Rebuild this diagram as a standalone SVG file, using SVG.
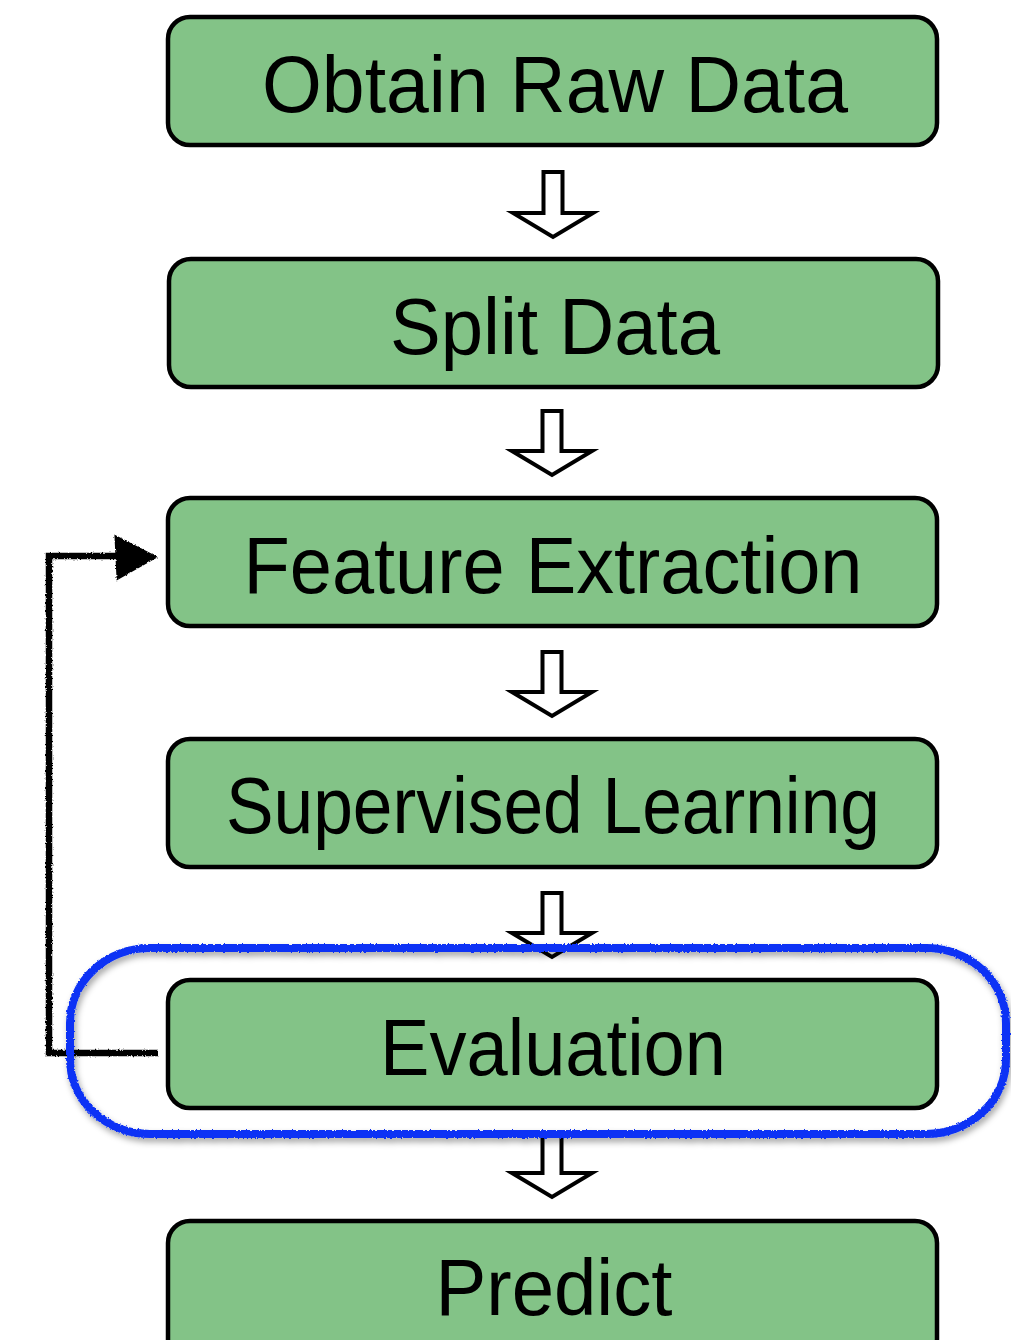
<svg xmlns="http://www.w3.org/2000/svg" width="1011" height="1340" viewBox="0 0 1011 1340">
<style>
.box{fill:#83c387;stroke:#000;stroke-width:4.5}
.lbl{font-family:"Liberation Sans",Arial,sans-serif;font-size:80px;fill:#000;text-anchor:middle}
.arr{fill:#fff;stroke:#000;stroke-width:4;stroke-linejoin:miter}
.fb{fill:none;stroke:#000;stroke-width:6.5;filter:url(#rough)}
</style>
<defs>
<filter id="rough" x="-10%" y="-10%" width="120%" height="120%">
<feTurbulence type="fractalNoise" baseFrequency="0.6" numOctaves="2" seed="3" result="n"/>
<feDisplacementMap in="SourceGraphic" in2="n" scale="3" xChannelSelector="R" yChannelSelector="G"/>
</filter>
<filter id="blueRough" x="-5%" y="-10%" width="110%" height="125%">
<feTurbulence type="fractalNoise" baseFrequency="0.5" numOctaves="2" seed="7" result="n"/>
<feDisplacementMap in="SourceGraphic" in2="n" scale="3" xChannelSelector="R" yChannelSelector="G" result="d"/>
<feGaussianBlur in="d" stdDeviation="3" result="b"/>
<feOffset in="b" dx="2" dy="4" result="o"/>
<feColorMatrix in="o" type="matrix" values="0 0 0 0 0  0 0 0 0 0  0 0 0 0 0  0 0 0 0.35 0" result="s"/>
<feMerge><feMergeNode in="s"/><feMergeNode in="d"/></feMerge>
</filter>
</defs>

<g id="connectors">
<path class="arr" d="M543.5,172 H562.5 V213 H593 L553,237 L513,213 H543.5 Z"/>
<path class="arr" d="M542.5,411 H561.5 V451 H592 L552,475 L512,451 H542.5 Z"/>
<path class="arr" d="M542.5,652 H561.5 V692 H592 L552,716 L512,692 H542.5 Z"/>
<path class="arr" d="M542.5,893 H561.5 V933 H592 L552,957 L512,933 H542.5 Z"/>
<path class="arr" d="M542.5,1133 H561.5 V1173 H592 L552,1197 L512,1173 H542.5 Z"/>
<g id="feedback">
<path class="fb" d="M158,1053 H49 V556 H118"/>
<path d="M116,537 L155,557 L118,578 Z" fill="#000" stroke="#000" stroke-width="3" filter="url(#rough)"/>
</g>
</g>

<g id="n1"><rect class="box" x="168" y="17" width="769" height="128" rx="22"/><text class="lbl" x="555" y="112" textLength="586" lengthAdjust="spacingAndGlyphs">Obtain Raw Data</text></g>
<g id="n2"><rect class="box" x="169" y="259" width="769" height="128" rx="22"/><text class="lbl" x="555" y="354" textLength="330" lengthAdjust="spacingAndGlyphs">Split Data</text></g>
<g id="n3"><rect class="box" x="168" y="498" width="769" height="128" rx="22"/><text class="lbl" x="553" y="593" textLength="619" lengthAdjust="spacingAndGlyphs">Feature Extraction</text></g>
<g id="n4"><rect class="box" x="168" y="739" width="769" height="128" rx="22"/><text class="lbl" x="553" y="833" textLength="654" lengthAdjust="spacingAndGlyphs">Supervised Learning</text></g>
<g id="n5"><rect class="box" x="168" y="980" width="769" height="128" rx="22"/><text class="lbl" x="553" y="1075" textLength="346" lengthAdjust="spacingAndGlyphs">Evaluation</text></g>
<g id="n6"><rect class="box" x="168" y="1221" width="769" height="140" rx="22"/><text class="lbl" x="554" y="1315" textLength="237" lengthAdjust="spacingAndGlyphs">Predict</text></g>

<g id="highlight">
<rect x="70" y="948" width="936" height="186" rx="80" ry="75" fill="none" stroke="#0a32f5" stroke-width="8" filter="url(#blueRough)"/>
</g>
</svg>
